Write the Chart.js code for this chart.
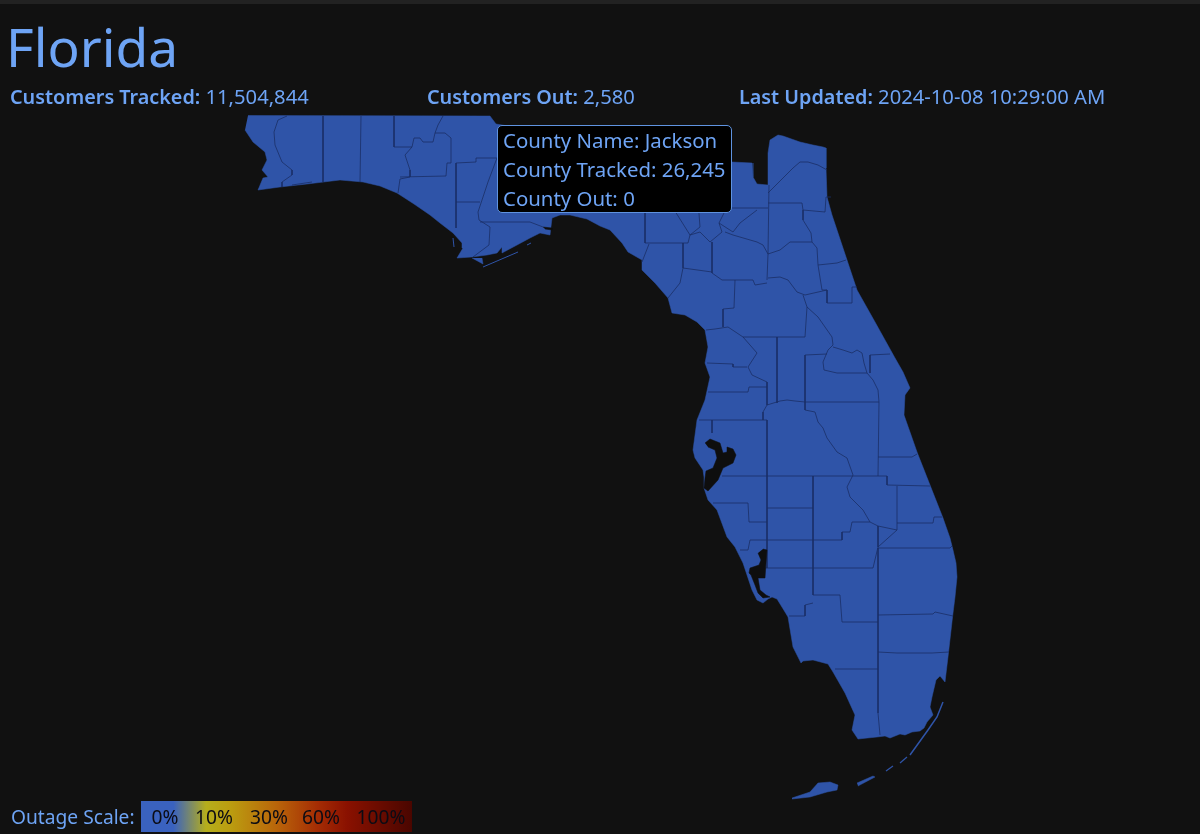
<!DOCTYPE html>
<html><head><meta charset="utf-8">
<script src="https://cdn.jsdelivr.net/npm/chart.js@4"></script>
<style>
html,body{margin:0;padding:0;background:#111;overflow:hidden}
body{width:1200px;height:834px;position:relative;font-family:"Noto Sans",sans-serif;color:#6ea4f5}
#bar{position:absolute;left:0;top:0;width:1200px;height:4px;background:#222}
canvas{position:absolute;left:0;top:0}
.t{position:absolute;white-space:nowrap}
#title{left:6px;top:9px;font-size:53.3px;line-height:75px}
.s{top:83px;font-size:20.2px;line-height:26px}
.s b{font-weight:600;font-size:19.8px}
#tip{left:497px;top:125px;width:233px;height:86px;background:#000;border:1px solid #5f93e0;border-radius:5px;font-size:20.4px;line-height:29px;padding:0}
#tip div{padding-left:5px}
#scaleLabel{left:11px;top:804px;font-size:19.2px;line-height:26px}
#scale{left:141px;top:801px;width:271px;height:31px;background:linear-gradient(90deg,#3a62bf 0%,#3a62bf 12%,#b5ae1c 24%,#bb9d10 33%,#b9650a 50%,#a52d04 65%,#8a1100 76%,#4a0600 100%)}
.l{top:804px;font-size:19.2px;line-height:26px;color:#0c0c14;transform:translateX(-50%)}
</style></head>
<body>
<div id="bar"></div>
<canvas id="map" width="1200" height="834"></canvas>
<div class="t" id="title">Florida</div>
<div class="t s" style="left:10px"><b>Customers Tracked:</b> 11,504,844</div>
<div class="t s" style="left:427px"><b>Customers Out:</b> 2,580</div>
<div class="t s" style="left:739px"><b>Last Updated:</b> 2024-10-08 10:29:00 AM</div>
<div class="t" id="tip"><div>County Name: Jackson</div><div>County Tracked: 26,245</div><div>County Out: 0</div></div>
<div class="t" id="scaleLabel">Outage Scale:</div>
<div class="t" id="scale"></div>
<div class="t l" style="left:165px">0%</div>
<div class="t l" style="left:214px">10%</div>
<div class="t l" style="left:269px">30%</div>
<div class="t l" style="left:321px">60%</div>
<div class="t l" style="left:381px">100%</div>
<script>
// Map geometry in map units.
const stateOutline=[[248,115.5],[490,116],[496,124],[520,128],[600,135],[650,150],[732,162],[752,163],[753,177],[757,184],[768,185],[768,153],[770,140],[778,135],[783,136],[800,142],[813,145],[823,147],[826,148],[826,168],[827,197],[832,215],[838,233],[847,260],[857,290],[875,322],[895,358],[903,372],[910,388],[905,395],[904,415],[917,452],[930,485],[943,518],[950,538],[953,550],[956,563],[957,577],[955,597],[953,613],[948,657],[945,682],[940,676],[936,680],[932,697],[930,707],[933,715],[927,722],[924,728],[920,731],[912,732],[905,735],[900,734],[890,738],[885,736],[877,737],[858,739],[852,730],[855,715],[845,693],[833,672],[828,664],[813,660],[803,661],[801,663],[793,647],[788,617],[785,612],[777,599],[772,597],[768,599],[763,603],[757,600],[752,590],[746,572],[743,563],[735,547],[727,537],[717,510],[708,500],[704,488],[704,477],[703,470],[695,458],[693,450],[697,420],[705,400],[710,377],[705,363],[708,347],[705,330],[697,322],[685,315],[672,313],[668,298],[655,283],[642,270],[642,260],[628,252],[622,243],[610,230],[600,226],[587,219],[570,215],[560,215],[552,218],[550,235],[540,233],[530,238],[517,245],[502,253],[502,247],[497,253],[487,255],[472,257],[457,258],[463,248],[462,243],[453,233],[440,223],[430,215],[414,204],[397,193],[380,186],[363,182],[340,180],[307,184],[280,187],[258,190],[263,178],[268,177],[262,170],[267,160],[265,152],[253,142],[245,130]];
const capeIsland=[[472,258],[483,264],[482,258]];
const keyLargo=[[792,798],[810,792],[818,783],[830,782],[838,785],[837,790],[827,792],[810,797],[792,799]];
const middleKeys=[[857,783],[873,776],[875,777],[858,786]];
const tampaBay=[[705,443],[710,439],[720,443],[723,453],[727,452],[727,447],[733,449],[736,455],[733,463],[723,468],[718,480],[708,491],[704,488],[705,478],[706,471],[713,468],[717,458],[715,450],[708,447]];
const charlotteHarbor=[[763,549],[767,550],[766,563],[765,578],[758,578],[760,590],[766,595],[770,597],[763,598],[758,593],[755,585],[751,575],[749,573],[750,568],[759,565],[761,560],[758,553]];
const stMarksInlet=[[543,227],[552,228],[552,230],[545,229]];
const upperKeys=[[943,702],[937,717],[928,730],[910,755]];
const lowerKeysA=[[907,757],[900,763]];
const lowerKeysB=[[893,766],[886,771]];
const stGeorge=[[483,267],[518,252]];
const dogIsland=[[527,245],[531,243]];
const capeSliver=[[453,238],[454,247]];
const countyLines=[
[[287,116],[278,120],[274,132],[275,145],[282,162],[292,170],[292,175],[282,182],[282,187]],
[[292,185],[312,182]],
[[323,116],[323,182]],
[[361,116],[360,182]],
[[394,116],[394,147],[412,147],[414,138],[420,138],[423,142],[433,142],[435,133],[438,125],[443,116]],
[[412,147],[405,155],[410,170],[410,177],[400,179],[398,193]],
[[400,177],[446,176],[447,163],[451,163],[451,138],[445,133],[435,133]],
[[456,163],[476,162],[476,158],[497,158]],
[[456,163],[456,228]],
[[456,202],[480,202]],
[[497,158],[488,182],[478,212],[479,220],[490,227],[489,245],[473,257]],
[[480,222],[523,222],[530,222],[543,227]],
[[645,200],[645,243],[688,243]],
[[649,244],[642,262]],
[[668,200],[690,235],[688,243]],
[[690,235],[700,227],[698,200]],
[[690,235],[700,232],[710,242],[722,232],[719,223],[728,205]],
[[719,223],[733,232],[740,223],[757,210]],
[[732,208],[768,208]],
[[769,185],[768,254]],
[[768,193],[793,168],[800,162],[808,162],[818,165],[827,170]],
[[768,203],[802,203],[803,210],[825,212],[826,197],[831,197]],
[[803,210],[803,220],[811,233],[812,242],[790,242],[780,250],[768,254],[763,245],[757,242],[733,235],[725,232]],
[[812,242],[817,248],[818,265],[837,263],[846,260]],
[[818,265],[822,290],[827,290],[827,303],[852,303],[852,287],[857,287]],
[[768,254],[767,280]],
[[768,278],[780,277],[788,280],[797,292],[805,295],[827,290]],
[[712,242],[712,273],[722,280],[735,280],[753,280],[755,285],[767,283]],
[[683,243],[683,268],[712,272]],
[[683,268],[680,283],[668,298]],
[[735,280],[734,308],[723,309],[723,327]],
[[743,337],[805,337],[807,307],[803,295]],
[[706,330],[715,329],[728,327],[743,337],[757,353],[748,367],[752,375],[767,382],[767,405],[763,412],[763,420],[767,420],[767,568]],
[[777,337],[777,403]],
[[807,307],[818,317],[832,337],[833,345],[828,350],[823,362],[824,370],[837,373],[867,373],[864,363],[862,353],[857,350],[852,353],[843,350],[833,347]],
[[805,355],[827,354]],
[[805,355],[805,410],[815,412],[818,422],[823,428],[827,438],[837,452],[847,458],[853,475],[847,487],[850,497],[863,510],[870,522],[878,526],[878,547],[873,568]],
[[767,405],[780,401],[787,400],[795,401],[805,402],[879,402]],
[[867,373],[873,380],[878,390],[879,402],[878,476]],
[[870,355],[870,373]],
[[870,355],[890,354]],
[[707,363],[733,364],[733,367],[747,367]],
[[708,392],[748,392],[749,387],[767,387]],
[[699,420],[763,420]],
[[712,420],[712,433]],
[[722,476],[887,476],[887,485],[930,486]],
[[878,457],[912,457],[917,454]],
[[878,526],[897,530],[897,486]],
[[878,547],[897,530]],
[[897,523],[933,523],[934,517],[942,517]],
[[878,548],[950,548],[952,546]],
[[852,522],[870,522]],
[[852,522],[850,532],[842,532],[842,540],[750,540],[748,550],[740,550]],
[[813,476],[813,595],[840,595],[842,622],[878,622]],
[[767,508],[813,508]],
[[713,503],[748,503],[749,522],[767,522]],
[[765,568],[873,568]],
[[813,603],[805,605],[805,616],[789,616]],
[[878,548],[878,713],[880,735]],
[[878,615],[933,614],[935,612],[953,616]],
[[878,652],[897,653],[932,653],[949,652]],
[[835,669],[878,669]]
];
const landColor='#2f54a8', waterColor='#0e0e0e', lineColor='#1a2f66';
const pts=a=>a.map(p=>({x:p[0],y:p[1]}));
const area=(a,bg,order)=>({data:pts(a),showLine:true,fill:'shape',backgroundColor:bg,borderColor:bg,borderWidth:0.5,pointRadius:0,tension:0,order});
const stroke=(a,col,w,order)=>({data:pts(a),showLine:true,fill:false,borderColor:col,borderWidth:w,pointRadius:0,tension:0,order});
new Chart(document.getElementById('map'),{
  type:'scatter',
  data:{datasets:[
    area(stateOutline,landColor,10),
    area(capeIsland,landColor,10),
    area(keyLargo,landColor,10),
    area(middleKeys,landColor,10),
    stroke(upperKeys,landColor,1.5,10),
    stroke(lowerKeysA,landColor,1.2,10),
    stroke(lowerKeysB,landColor,1.2,10),
    stroke(stGeorge,landColor,1,10),
    stroke(dogIsland,landColor,1,10),
    stroke(capeSliver,landColor,1,10),
    ...countyLines.map(c=>stroke(c,lineColor,0.8,5)),
    area(tampaBay,waterColor,1),
    area(charlotteHarbor,waterColor,1),
    area(stMarksInlet,waterColor,1)
  ]},
  options:{
    responsive:false,animation:false,devicePixelRatio:1,
    layout:{padding:0},
    plugins:{legend:{display:false},tooltip:{enabled:false},title:{display:false}},
    scales:{
      x:{type:'linear',min:0,max:1200,display:false},
      y:{type:'linear',min:0,max:834,reverse:true,display:false}
    }
  }
});
</script>
</body></html>
